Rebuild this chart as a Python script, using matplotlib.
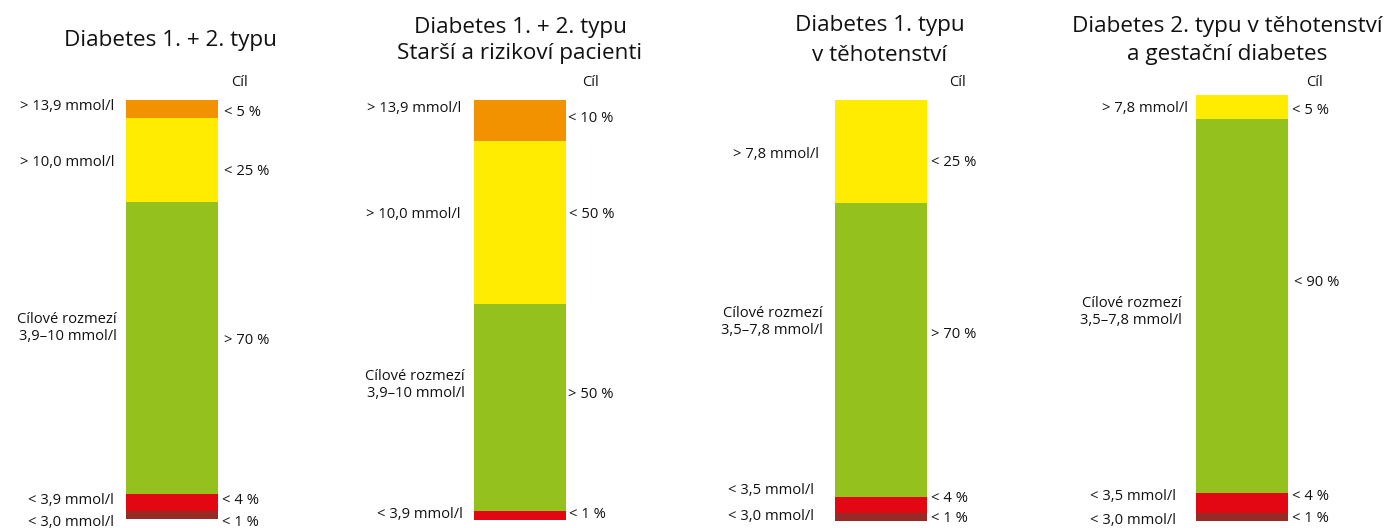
import matplotlib
matplotlib.use("Agg")
import matplotlib.pyplot as plt

# ---------------- data ----------------
titles = [
    "Diabetes 1. + 2. typu",
    "Diabetes 1. + 2. typu\nStarší a rizikoví pacienti",
    "Diabetes 1. typu\nv těhotenství",
    "Diabetes 2. typu v těhotenství\na gestační diabetes",
]

# segment shares (top -> bottom)
p1_values = [4.3, 20.0, 69.7, 4.1, 1.9]
p2_values = [9.8, 38.8, 49.3, 2.1]
p3_values = [24.5, 69.8, 3.8, 1.9]
p4_values = [5.6, 87.8, 4.7, 1.9]

p1_colors = ["orange", "yellow", "green", "red", "darkred"]
p2_colors = ["orange", "yellow", "green", "red"]
p3_colors = ["yellow", "green", "red", "darkred"]
p4_colors = ["yellow", "green", "red", "darkred"]

p1_left = ["> 13,9 mmol/l", "> 10,0 mmol/l", "Cílové rozmezí\n3,9–10 mmol/l", "< 3,9 mmol/l", "< 3,0 mmol/l"]
p1_right = ["< 5 %", "< 25 %", "> 70 %", "< 4 %", "< 1 %"]
p2_left = ["> 13,9 mmol/l", "> 10,0 mmol/l", "Cílové rozmezí\n3,9–10 mmol/l", "< 3,9 mmol/l"]
p2_right = ["< 10 %", "< 50 %", "> 50 %", "< 1 %"]
p3_left = ["> 7,8 mmol/l", "Cílové rozmezí\n3,5–7,8 mmol/l", "< 3,5 mmol/l", "< 3,0 mmol/l"]
p3_right = ["< 25 %", "> 70 %", "< 4 %", "< 1 %"]
p4_left = ["> 7,8 mmol/l", "Cílové rozmezí\n3,5–7,8 mmol/l", "< 3,5 mmol/l", "< 3,0 mmol/l"]
p4_right = ["< 5 %", "< 90 %", "< 4 %", "< 1 %"]
goal_label = "Cíl"

# ---------------- styles / layout (pixels) ----------------
palette = {
    "orange": "#F39200",
    "yellow": "#FFEC00",
    "green": "#95C11F",
    "red": "#E30613",
    "darkred": "#962A27",
}
W, H = 1385, 528
FONT = ["Open Sans", "DejaVu Sans"]

layout = [
    dict(bar=(126, 218, 100, 519), title_x=170, title_y=[46],
         left_x=[114, 114, 117, 114, 114], left_y=[107, 162, 328, 500, 522],
         right_x=[224, 224, 224, 222, 222], right_y=[112, 172, 340, 500, 522],
         goal=(231, 83)),
    dict(bar=(474, 566, 100, 520), title_x=520, title_y=[33, 59],
         left_x=[461, 461, 465, 463], left_y=[108, 215, 385, 515],
         right_x=[568, 569, 568, 569], right_y=[118, 215, 394, 515],
         goal=(582, 83)),
    dict(bar=(835, 927, 100, 521), title_x=880, title_y=[31, 61],
         left_x=[819, 823, 814, 814], left_y=[155, 322, 490, 516],
         right_x=[931, 931, 931, 931], right_y=[163, 335, 498, 519],
         goal=(949, 83)),
    dict(bar=(1196, 1288, 95, 521), title_x=1227, title_y=[32, 60],
         left_x=[1188, 1182, 1176, 1176], left_y=[108, 312, 497, 521],
         right_x=[1292, 1294, 1292, 1292], right_y=[110, 283, 497, 518],
         goal=(1306, 83)),
]

panels = [
    (p1_values, p1_colors, p1_left, p1_right),
    (p2_values, p2_colors, p2_left, p2_right),
    (p3_values, p3_colors, p3_left, p3_right),
    (p4_values, p4_colors, p4_left, p4_right),
]

fig = plt.figure(figsize=(W / 100, H / 100), dpi=100)
fig.patch.set_facecolor("white")


def fx(px):
    return px / W


def fy(py):
    return 1 - py / H


TITLE_SIZE = 16.2
LABEL_SIZE = 10.6
TEXT_COLOR = "#111111"

for i, (values, colors, left, right) in enumerate(panels):
    lay = layout[i]
    x0, x1, y0, y1 = lay["bar"]
    ax = fig.add_axes([fx(x0), fy(y1), (x1 - x0) / W, (y1 - y0) / H])
    bottom = 0.0
    for v, c in zip(reversed(values), reversed(colors)):
        ax.bar(0, v, bottom=bottom, width=1.0, color=palette[c], linewidth=0)
        bottom += v
    ax.set_xlim(-0.5, 0.5)
    ax.set_ylim(0, bottom)
    ax.axis("off")

    for line, ty in zip(titles[i].split("\n"), lay["title_y"]):
        fig.text(fx(lay["title_x"]), fy(ty), line, ha="center", va="baseline",
                 fontsize=TITLE_SIZE, family=FONT, color=TEXT_COLOR)

    gx, gy = lay["goal"]
    fig.text(fx(gx), fy(gy), goal_label, ha="left", va="center",
             fontsize=LABEL_SIZE, family=FONT, color=TEXT_COLOR)

    for s, lx, ly in zip(left, lay["left_x"], lay["left_y"]):
        fig.text(fx(lx), fy(ly), s, ha="right", va="center", multialignment="right",
                 fontsize=LABEL_SIZE, family=FONT, color=TEXT_COLOR, linespacing=1.15)
    for s, rx, ry in zip(right, lay["right_x"], lay["right_y"]):
        fig.text(fx(rx), fy(ry), s, ha="left", va="center",
                 fontsize=LABEL_SIZE, family=FONT, color=TEXT_COLOR)

fig.savefig("out.png", dpi=100)
